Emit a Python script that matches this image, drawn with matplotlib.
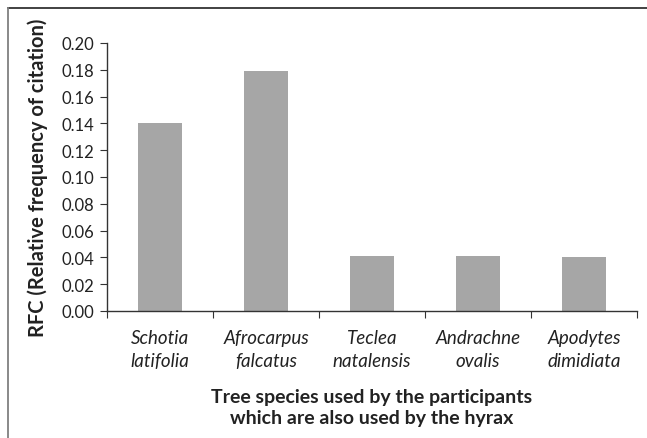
import matplotlib
matplotlib.use("Agg")
from matplotlib import pyplot as plt
from matplotlib.lines import Line2D
import numpy as np

species = ["Schotia\nlatifolia", "Afrocarpus\nfalcatus", "Teclea\nnatalensis",
           "Andrachne\novalis", "Apodytes\ndimidiata"]
rfc = [0.140, 0.179, 0.041, 0.041, 0.040]
yticks = [0.00, 0.02, 0.04, 0.06, 0.08, 0.10, 0.12, 0.14, 0.16, 0.18, 0.20]

plt.rcParams['font.family'] = ['Lato', 'DejaVu Sans']

fig = plt.figure(figsize=(6.47, 4.39), dpi=100)
ax = fig.add_axes([107 / 647, 1 - 312 / 439, 530 / 647, 268 / 439])

x = np.arange(len(species))
ax.bar(x, rfc, width=0.42, color="#a6a6a6", zorder=2)

ax.set_xlim(-0.5, len(species) - 0.5)
ax.set_ylim(0, 0.20)
ax.set_yticks(yticks)
ax.set_yticklabels([f"{v:.2f}" for v in yticks], fontsize=12, color="#222222")

# category labels sit between the boundary ticks
ax.set_xticks(np.arange(len(species) + 1) - 0.5)
ax.set_xticklabels([])
ax.set_xticks(x, minor=True)
ax.set_xticklabels(species, minor=True, fontsize=13.5, style="italic",
                   color="#222222", linespacing=1.4)
ax.tick_params(axis="x", which="minor", length=0, pad=13)
ax.tick_params(axis="x", which="major", length=5, direction="out", color="#333333")
ax.tick_params(axis="y", length=5, direction="out", color="#333333", pad=4)

for s in ["top", "right"]:
    ax.spines[s].set_visible(False)
for s in ["left", "bottom"]:
    ax.spines[s].set_color("#333333")
    ax.spines[s].set_linewidth(1.0)

ax.set_ylabel("RFC (Relative frequency of citation)", fontsize=14.5, fontweight="bold",
              color="#222222", labelpad=10)
ax.set_xlabel("Tree species used by the participants\nwhich are also used by the hyrax",
              fontsize=14, fontweight="bold", color="#222222", labelpad=14,
              linespacing=1.3)

# frame: only top and left edges are visible in the original
fig.lines.append(Line2D([8 / 647, 1], [1 - 9 / 439] * 2, transform=fig.transFigure,
                        color="#333333", linewidth=1.3))
fig.lines.append(Line2D([8 / 647] * 2, [0, 1 - 9 / 439], transform=fig.transFigure,
                        color="#808080", linewidth=1.3))

fig.savefig("out.png", dpi=100)
